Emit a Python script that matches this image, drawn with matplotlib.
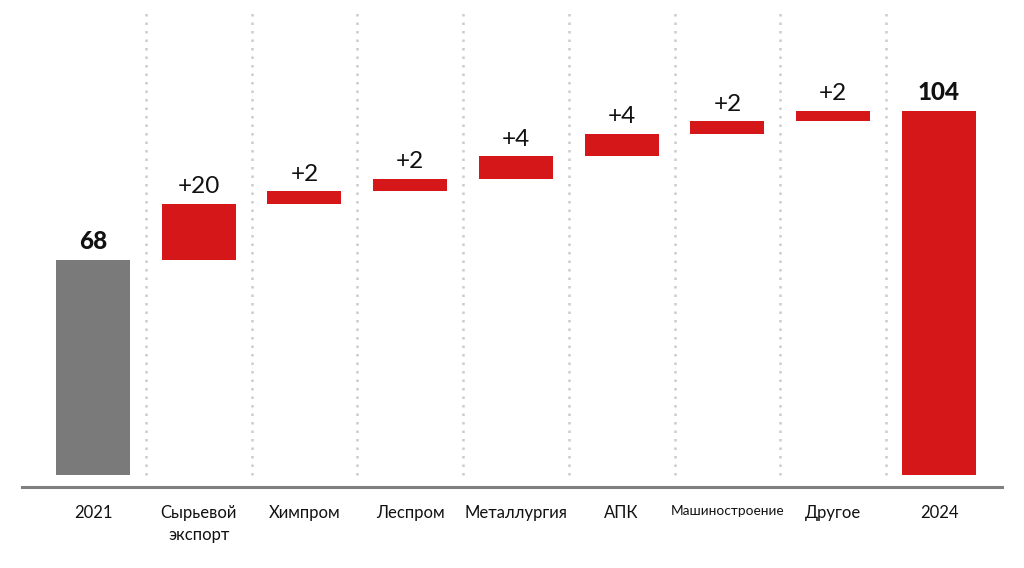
import numpy as np
import matplotlib.pyplot as plt

plt.rcParams["font.family"] = ["Lato", "DejaVu Sans"]

categories = ["2021", "Сырьевой\nэкспорт", "Химпром", "Леспром", "Металлургия",
              "АПК", "Машиностроение", "Другое", "2024"]
# heights as drawn in the picture (the source chart is not to scale)
start_value = 61.5
steps = [16, 3.5, 3.5, 6.5, 6.5, 3.5, 3]
end_value = 104
value_labels = ["68", "+20", "+2", "+2", "+4", "+4", "+2", "+2", "104"]

red = "#d6171a"
grey = "#7a7a7a"

bottoms = [0]
heights = [start_value]
level = start_value
for s in steps:
    bottoms.append(level)
    heights.append(s)
    level += s
bottoms.append(0)
heights.append(end_value)
colors = [grey] + [red] * len(steps) + [red]

x = np.arange(len(categories))

fig = plt.figure(figsize=(10.24, 5.68), dpi=100)
ax = fig.add_axes([22 / 1024, 81 / 568, 980 / 1024, 487 / 568])

ax.bar(x, heights, bottom=bottoms, width=0.70, color=colors, zorder=3)

for i in range(len(categories)):
    top = bottoms[i] + heights[i]
    bold = i == 0 or i == len(categories) - 1
    ax.annotate(value_labels[i], (x[i], top), xytext=(0, 5), textcoords="offset points",
                ha="center", va="bottom", fontsize=17.5,
                fontweight="black" if bold else "normal", color="#111111")

# dotted separators between columns
ax.vlines(x[:-1] + 0.5, 0, 132.8, colors="#cccccc", linewidth=1.8,
          linestyles=(0, (1, 2.4)), zorder=1)

ax.set_xlim(-0.671, 8.596)
ax.set_ylim(-3.43, 135.7)

for side in ["top", "right", "left"]:
    ax.spines[side].set_visible(False)
ax.spines["bottom"].set_color("#7f7f7f")
ax.spines["bottom"].set_linewidth(2.2)

ax.set_yticks([])
ax.set_xticks(x)
ax.set_xticklabels(categories, fontsize=12, color="#111111", linespacing=1.45)
ax.tick_params(axis="x", length=0, pad=13)
for lbl in ax.get_xticklabels():
    if lbl.get_text() == "Машиностроение":
        lbl.set_fontsize(9.8)

fig.savefig("out.png", dpi=100)
